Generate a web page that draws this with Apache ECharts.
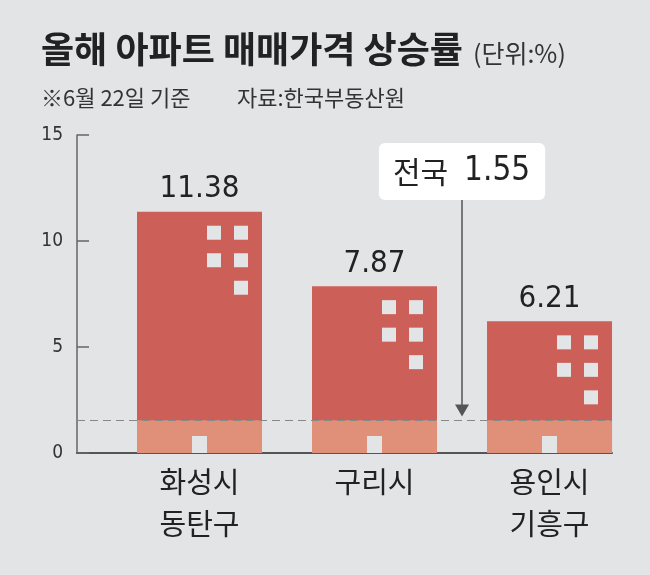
<!DOCTYPE html>
<html>
<head>
<meta charset="utf-8">
<script src="https://cdn.jsdelivr.net/npm/echarts@6/dist/echarts.min.js"></script>
<style>
  html, body { margin: 0; padding: 0; background: #e3e4e6; }
  #main { width: 650px; height: 575px; }
</style>
</head>
<body>
<div id="main"></div>
<script>
// 올해 아파트 매매가격 상승률 (단위:%)
const categories = ['화성시\n동탄구', '구리시', '용인시\n기흥구'];
const rates = [11.38, 7.87, 6.21];
const national = 1.55;
const yTicks = [0, 5, 10, 15];

const KR = 'Noto Sans CJK KR';
const NUM = "'DejaVu Sans Condensed', 'Liberation Sans Narrow', Roboto, sans-serif";
const red = '#cc5f57';
const salmon = '#e08f79';
const bg = '#e3e4e6';

const chart = echarts.init(document.getElementById('main'));

// 건물 창문과 문
function renderBuilding(params, api) {
  const i = api.value(0);
  const top = api.coord([i, api.value(1)]);
  const base = api.coord([i, 0]);
  const left = base[0] - 62.5;
  const s = 14;
  const wins = [[70, 14], [97, 14], [70, 41.5], [97, 41.5], [97, 69]];
  const children = wins.map(function (w) {
    return { type: 'rect', shape: { x: left + w[0], y: top[1] + w[1], width: s, height: s }, style: { fill: bg } };
  });
  children.push({ type: 'rect', shape: { x: base[0] - 7.5, y: base[1] - 17, width: 15, height: 17 }, style: { fill: bg } });
  return { type: 'group', children: children };
}

chart.setOption({
  backgroundColor: bg,
  animation: false,
  title: [
    {
      left: 36, top: 26,
      text: '{a|올해 아파트 매매가격 상승률}  {b|(단위:%)}',
      textStyle: {
        rich: {
          a: { fontFamily: KR, fontSize: 36, fontWeight: 'bold', color: '#222' },
          b: { fontFamily: KR, fontSize: 25, fontWeight: 'normal', color: '#333', padding: [8, 0, 0, 0] }
        }
      }
    },
    { left: 36, top: 82, text: '※6월 22일 기준', textStyle: { fontFamily: KR, fontSize: 22, fontWeight: 'normal', color: '#333' } },
    { left: 232, top: 82, text: '자료:한국부동산원', textStyle: { fontFamily: KR, fontSize: 22, fontWeight: 'normal', color: '#333' } }
  ],
  grid: { left: 77, right: 38, top: 135, bottom: 122, containLabel: false },
  xAxis: {
    type: 'value',
    min: -0.7,
    max: 2.357,
    splitLine: { show: false },
    axisTick: { show: false },
    axisLine: { show: true, onZero: false, lineStyle: { color: '#555', width: 2 } },
    axisLabel: {
      customValues: [0, 1, 2],
      formatter: function (v) { return categories[Math.round(v)] || ''; },
      fontFamily: KR, fontSize: 29, color: '#222', lineHeight: 42, margin: 8
    }
  },
  yAxis: {
    type: 'value',
    min: yTicks[0],
    max: yTicks[yTicks.length - 1],
    interval: 5,
    splitLine: { show: false },
    axisLine: { show: true, onZero: false, lineStyle: { color: '#666', width: 1.5 } },
    axisTick: { show: true, inside: true, length: 12, lineStyle: { color: '#666', width: 1.5 } },
    axisLabel: { fontFamily: NUM, fontSize: 19, color: '#333', margin: 14 }
  },
  series: [
    {
      name: 'upper',
      type: 'bar',
      barWidth: 125,
      barGap: '-100%',
      itemStyle: { color: red },
      label: {
        show: true,
        position: 'top',
        distance: 7,
        fontFamily: NUM,
        fontSize: 31,
        color: '#222',
        formatter: function (p) { return rates[p.dataIndex].toFixed(2); }
      },
      data: rates.map(function (v, i) { return [i, v]; })
    },
    {
      name: 'base',
      type: 'bar',
      barWidth: 125,
      barGap: '-100%',
      itemStyle: { color: salmon },
      data: rates.map(function (v, i) { return [i, Math.min(v, national)]; }),
      markLine: {
        silent: true,
        symbol: 'none',
        lineStyle: { color: '#888', type: [8, 5], width: 1.2 },
        label: { show: false },
        data: [{ yAxis: national }]
      }
    },
    {
      name: 'building',
      type: 'custom',
      renderItem: renderBuilding,
      data: rates.map(function (v, i) { return [i, v]; }),
      z: 5
    },
    {
      name: 'callout',
      type: 'line',
      data: [],
      markLine: {
        silent: true,
        symbol: ['none', 'triangle'],
        symbolSize: [14, 12],
        lineStyle: { color: '#555', type: 'solid', width: 1.5 },
        itemStyle: { color: '#222' },
        label: {
          show: true,
          position: 'start',
          distance: 0,
          backgroundColor: '#fff',
          borderRadius: 6,
          padding: [7, 15, 7, 14],
          formatter: '{k|전국}{n|1.55}',
          rich: {
            k: { fontFamily: KR, fontSize: 30, color: '#222', lineHeight: 43 },
            n: { fontFamily: NUM, fontSize: 33, color: '#222', lineHeight: 43, padding: [0, 0, 0, 16] }
          }
        },
        data: [[{ xAxis: 1.5, yAxis: 11.93 }, { xAxis: 1.5, yAxis: national + 0.45 }]]
      }
    }
  ]
});
</script>
</body>
</html>
